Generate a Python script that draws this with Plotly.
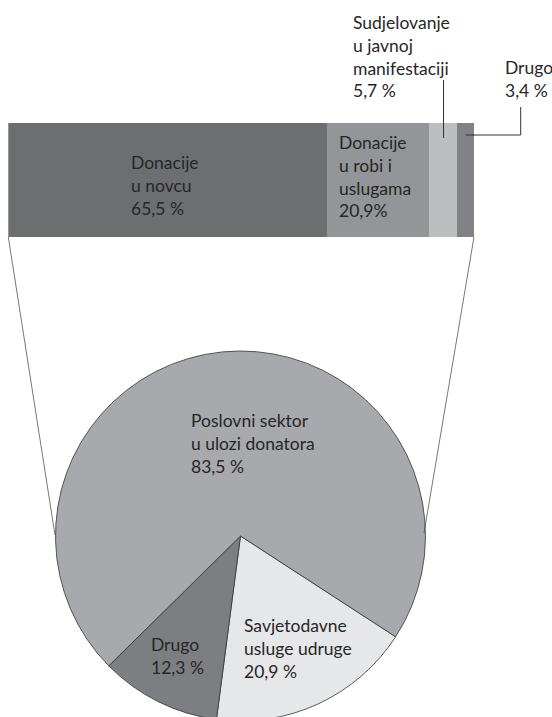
import plotly.graph_objects as go

# figure is a little taller than the window so the pie runs off the bottom edge
W, H = 552, 730

# top bar: kinds of donation (percent)
bar_labels = ["Donacije u novcu", "Donacije u robi i uslugama",
              "Sudjelovanje u javnoj manifestaciji", "Drugo"]
bar_values = [65.5, 20.9, 5.7, 3.4]
bar_text = ["Donacije<br>u novcu<br>65,5 %",
            "Donacije<br>u robi i<br>uslugama<br>20,9%",
            "Sudjelovanje<br>u javnoj<br>manifestaciji<br>5,7 %",
            "Drugo<br>3,4 %"]

# pie: breakdown (percent)
pie_labels = ["Savjetodavne usluge udruge", "Drugo", "Poslovni sektor u ulozi donatora"]
pie_values = [20.9, 12.3, 83.5]
pie_text = ["Savjetodavne<br>usluge udruge<br>20,9 %",
            "Drugo<br>12,3 %",
            "Poslovni sektor<br>u ulozi donatora<br>83,5 %"]

bar_colors = ["#6d6e70", "#939598", "#bcbec0", "#808285"]
pie_colors = ["#e6e7e8", "#7d7e81", "#a7a9ac"]
TXT = "#262626"
FONT = "Lato"
FS = 17.5


def px(x):
    return x / W


def py(y):
    return 1 - y / H


fig = go.Figure()

for lab, val, col in zip(bar_labels, bar_values, bar_colors):
    fig.add_trace(go.Bar(x=[val], y=[0], orientation="h", name=lab, width=1,
                         marker=dict(color=col, line=dict(width=0)),
                         hoverinfo="name+x"))

# pie centre ~ (240.5, 536), radius ~ 185
fig.add_trace(go.Pie(labels=pie_labels, values=pie_values, sort=False,
                     direction="clockwise", rotation=123, textinfo="none",
                     marker=dict(colors=pie_colors, line=dict(color="#333333", width=0.8)),
                     domain=dict(x=[px(55.5), px(425.5)], y=[py(721), py(351)]),
                     showlegend=False))

total = sum(bar_values)
fig.update_layout(
    width=W, height=H, margin=dict(l=0, r=0, t=0, b=0),
    paper_bgcolor="white", plot_bgcolor="white",
    barmode="stack", showlegend=False, bargap=0,
    font=dict(family=FONT, size=FS, color=TXT),
    xaxis=dict(domain=[px(8.3), px(474)], range=[0, total], visible=False, fixedrange=True),
    yaxis=dict(domain=[py(237), py(123)], range=[-0.5, 0.5], visible=False, fixedrange=True),
)

# labels: (text, left x px, block centre y px)
label_pos = [
    (bar_text[0], 129, 186),
    (bar_text[1], 337, 177),
    (bar_text[2], 351, 56),
    (bar_text[3], 503, 79.5),
    (pie_text[2], 189, 443.5),
    (pie_text[0], 242, 648),
    (pie_text[1], 149, 655.5),
]
for t, x, y in label_pos:
    fig.add_annotation(text=t, x=px(x), y=py(y), xref="paper", yref="paper",
                       xanchor="left", yanchor="middle", align="left",
                       showarrow=False, font=dict(family=FONT, size=FS, color=TXT))

line = dict(color="#333333", width=1)
# leader lines to the two small segments
mid3 = bar_values[0] + bar_values[1] + bar_values[2] / 2
mid4 = total - bar_values[3] / 2
fig.add_shape(type="line", xref="x", yref="paper", x0=mid3, x1=mid3,
              y0=py(138), y1=py(80), line=line)
fig.add_shape(type="line", xref="x", yref="paper", x0=mid4, x1=total,
              y0=py(135), y1=py(135), line=line)
fig.add_shape(type="path", xref="paper", yref="paper",
              path=f"M {px(473)},{py(135)} L {px(520.7)},{py(135)} L {px(520.7)},{py(107)}",
              line=line)
# connectors from bar to pie
thin = dict(color="#555555", width=0.8)
fig.add_shape(type="line", xref="paper", yref="paper",
              x0=px(8.3), y0=py(237), x1=px(55), y1=py(535), line=thin)
fig.add_shape(type="line", xref="paper", yref="paper",
              x0=px(474), y0=py(237), x1=px(424), y1=py(533), line=thin)

fig.write_html("out.html", config={"displayModeBar": False}, post_script=(
    "document.body.style.margin='0';"
    "document.body.style.overflow='hidden';"
    "document.documentElement.style.overflow='hidden';"))
